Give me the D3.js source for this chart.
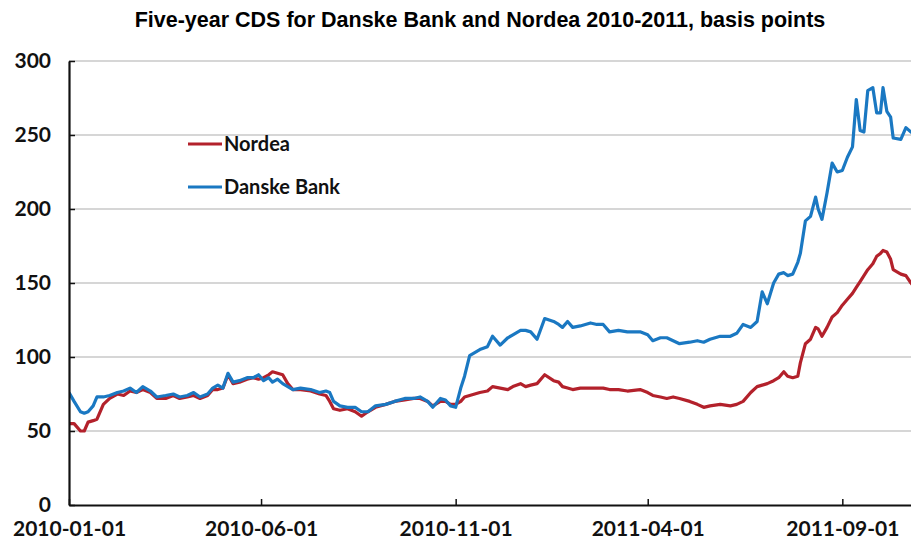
<!DOCTYPE html>
<html>
<head>
<meta charset="utf-8">
<script src="https://cdn.jsdelivr.net/npm/d3@7"></script>
<style>
  body { margin: 0; background: #fff; }
  svg { display: block; }
</style>
</head>
<body>
<div id="chart"></div>
<script>
const dates = [
  '2010-01-01', '2010-01-05', '2010-01-10', '2010-01-13', '2010-01-16', '2010-01-20', '2010-01-23', '2010-01-28', '2010-02-02', '2010-02-08',
  '2010-02-13', '2010-02-18', '2010-02-23', '2010-02-28', '2010-03-06', '2010-03-11', '2010-03-18', '2010-03-24', '2010-03-29', '2010-04-04',
  '2010-04-09', '2010-04-14', '2010-04-20', '2010-04-24', '2010-04-28', '2010-05-02', '2010-05-06', '2010-05-10', '2010-05-15', '2010-05-21',
  '2010-05-26', '2010-05-30', '2010-06-03', '2010-06-07', '2010-06-10', '2010-06-14', '2010-06-18', '2010-06-22', '2010-06-26', '2010-07-02',
  '2010-07-10', '2010-07-17', '2010-07-22', '2010-07-25', '2010-07-28', '2010-08-02', '2010-08-08', '2010-08-14', '2010-08-19', '2010-08-24',
  '2010-08-30', '2010-09-07', '2010-09-14', '2010-09-22', '2010-09-29', '2010-10-04', '2010-10-10', '2010-10-14', '2010-10-20', '2010-10-24',
  '2010-10-28', '2010-11-01', '2010-11-05', '2010-11-08', '2010-11-12', '2010-11-20', '2010-11-26', '2010-11-30', '2010-12-06', '2010-12-12',
  '2010-12-16', '2010-12-22', '2010-12-26', '2010-12-30', '2011-01-04', '2011-01-10', '2011-01-17', '2011-01-21', '2011-01-24', '2011-01-28',
  '2011-02-01', '2011-02-07', '2011-02-15', '2011-02-20', '2011-02-25', '2011-03-02', '2011-03-09', '2011-03-16', '2011-03-26', '2011-04-01',
  '2011-04-05', '2011-04-11', '2011-04-16', '2011-04-21', '2011-04-26', '2011-05-04', '2011-05-10', '2011-05-15', '2011-05-20', '2011-05-28',
  '2011-06-05', '2011-06-10', '2011-06-15', '2011-06-21', '2011-06-26', '2011-06-30', '2011-07-04', '2011-07-09', '2011-07-13', '2011-07-17',
  '2011-07-20', '2011-07-24', '2011-07-28', '2011-07-30', '2011-08-03', '2011-08-07', '2011-08-11', '2011-08-13', '2011-08-16', '2011-08-20',
  '2011-08-24', '2011-08-28', '2011-09-01', '2011-09-05', '2011-09-09', '2011-09-12', '2011-09-15', '2011-09-18', '2011-09-21', '2011-09-25',
  '2011-09-28', '2011-10-01', '2011-10-03', '2011-10-06', '2011-10-09', '2011-10-11', '2011-10-17', '2011-10-21', '2011-10-25', '2011-10-28'
]

// five-year CDS, basis points
const nordea = [
  55, 55, 50, 50, 56, 57, 58, 68, 72, 75,
  74, 77, 76, 78, 76, 72, 72, 74, 72, 73,
  74, 72, 74, 78, 78, 79, 88, 82, 83, 85,
  86, 85, 86, 88, 90, 89, 88, 82, 78, 78,
  77, 75, 74, 70, 65, 64, 65, 63, 60, 63,
  66, 68, 70, 71, 72, 72, 70, 67, 70, 70,
  68, 68, 70, 73, 74, 76, 77, 80, 79, 78,
  80, 82, 80, 81, 82, 88, 84, 83, 80, 79,
  78, 79, 79, 79, 79, 78, 78, 77, 78, 76,
  74, 73, 72, 73, 72, 70, 68, 66, 67, 68,
  67, 68, 70, 76, 80, 81, 82, 84, 86, 90,
  87, 86, 87, 96, 109, 112, 120, 119, 114, 120,
  127, 130, 135, 139, 143, 147, 151, 155, 159, 163,
  168, 170, 172, 171, 166, 159, 156, 155, 150, 147
]

const danske = [
  76, 70, 63, 62, 63, 67, 73, 73, 74, 76,
  77, 79, 76, 80, 77, 73, 74, 75, 73, 74,
  76, 73, 75, 79, 81, 79, 89, 83, 84, 86,
  86, 88, 84, 86, 83, 85, 82, 80, 78, 79,
  78, 76, 77, 76, 70, 67, 66, 66, 63, 63,
  67, 68, 70, 72, 72, 73, 70, 66, 72, 71,
  67, 66, 79, 87, 101, 105, 107, 114, 108, 113,
  115, 118, 118, 117, 112, 126, 124, 122, 120, 124,
  120, 121, 123, 122, 122, 117, 118, 117, 117, 115,
  111, 113, 113, 111, 109, 110, 111, 110, 112, 114,
  114, 116, 122, 120, 124, 144, 136, 150, 156, 157,
  155, 156, 164, 170, 192, 195, 208, 200, 193, 211,
  231, 225, 226, 235, 242, 274, 253, 252, 280, 282,
  265, 265, 282, 266, 262, 248, 247, 255, 252, 250
]

const seriesNames = ['Nordea', 'Danske Bank']
const seriesColors = ['#b3212b', '#1a78c2']
const xTicks = ['2010-01-01', '2010-06-01', '2010-11-01', '2011-04-01', '2011-09-01']
const yTicks = [0, 50, 100, 150, 200, 250, 300]
const xDomain = ['2010-01-01', '2011-10-25']

const dimensions = {
  width: 911,
  height: 544,
  margin: { top: 61, right: 0, bottom: 39, left: 69 }
}

const parse = d3.utcParse('%Y-%m-%d')
const fmt = d3.utcFormat('%Y-%m-%d')

const series = [nordea, danske].map((values, i) => ({
  name: seriesNames[i],
  color: seriesColors[i],
  values: values.map((v, j) => ({ date: parse(dates[j]), value: v }))
}))

const innerW = dimensions.width - dimensions.margin.left - dimensions.margin.right
const innerH = dimensions.height - dimensions.margin.top - dimensions.margin.bottom

const xScale = d3.scaleUtc()
  .domain(xDomain.map(parse))
  .range([0, innerW])

const yScale = d3.scaleLinear()
  .domain([0, 300])
  .range([innerH, 0])

const svg = d3.select('#chart').append('svg')
  .attr('width', dimensions.width)
  .attr('height', dimensions.height)

svg.append('text')
  .attr('x', 480)
  .attr('y', 27)
  .attr('text-anchor', 'middle')
  .style('font-family', '"Liberation Sans", Arial, sans-serif')
  .style('font-weight', 'bold')
  .style('font-size', '21.5px')
  .text('Five-year CDS for Danske Bank and Nordea 2010-2011, basis points')

const bounds = svg.append('g')
  .attr('transform', `translate(${dimensions.margin.left}, ${dimensions.margin.top})`)

// gridlines
bounds.append('g')
  .selectAll('line')
  .data(yTicks.filter(d => d > 0))
  .join('line')
  .attr('x1', 0)
  .attr('x2', innerW)
  .attr('y1', d => yScale(d))
  .attr('y2', d => yScale(d))
  .attr('stroke', '#c9c9c9')
  .attr('stroke-width', 1.5)

bounds.append('defs').append('clipPath')
  .attr('id', 'plot-clip')
  .append('rect')
  .attr('x', 0)
  .attr('y', -10)
  .attr('width', innerW)
  .attr('height', innerH + 10)

const line = d3.line()
  .x(d => xScale(d.date))
  .y(d => yScale(d.value))

bounds.append('g')
  .attr('clip-path', 'url(#plot-clip)')
  .selectAll('path')
  .data(series)
  .join('path')
  .attr('d', d => line(d.values))
  .attr('fill', 'none')
  .attr('stroke', d => d.color)
  .attr('stroke-width', 3.2)
  .attr('stroke-linejoin', 'round')

// axes
const tickFont = sel => sel.selectAll('.tick text')
  .style('font-family', 'Lato, "Open Sans", sans-serif')
  .style('font-weight', 700)
  .style('font-size', '21px')
  .attr('fill', '#111')

const xAxisContainer = bounds.append('g')
  .attr('transform', `translate(0, ${innerH})`)
  .call(d3.axisBottom(xScale)
    .tickValues(xTicks.map(parse))
    .tickFormat(fmt)
    .tickSizeInner(-6)
    .tickSizeOuter(0)
    .tickPadding(16))
xAxisContainer.call(tickFont)
xAxisContainer.select('.domain').attr('stroke', '#111').attr('stroke-width', 2.2)
xAxisContainer.selectAll('.tick line').attr('stroke', '#111').attr('stroke-width', 1.5)

const yAxisContainer = bounds.append('g')
  .call(d3.axisLeft(yScale)
    .tickValues(yTicks)
    .tickSizeInner(-6)
    .tickSizeOuter(0)
    .tickPadding(18))
yAxisContainer.call(tickFont)
yAxisContainer.select('.domain').attr('stroke', '#111').attr('stroke-width', 2.2)
yAxisContainer.selectAll('.tick line').attr('stroke', '#111').attr('stroke-width', 1.5)

// legend
const legend = svg.append('g')
  .selectAll('g')
  .data(series)
  .join('g')
  .attr('transform', (d, i) => `translate(188, ${144 + i * 43})`)

legend.append('line')
  .attr('x1', 0)
  .attr('x2', 34)
  .attr('stroke', d => d.color)
  .attr('stroke-width', 3.2)

legend.append('text')
  .attr('x', 36)
  .attr('dy', '0.36em')
  .style('font-family', 'Lato, "Open Sans", sans-serif')
  .style('font-weight', 700)
  .style('font-size', '20px')
  .attr('fill', '#111')
  .text(d => d.name)
</script>
</body>
</html>
